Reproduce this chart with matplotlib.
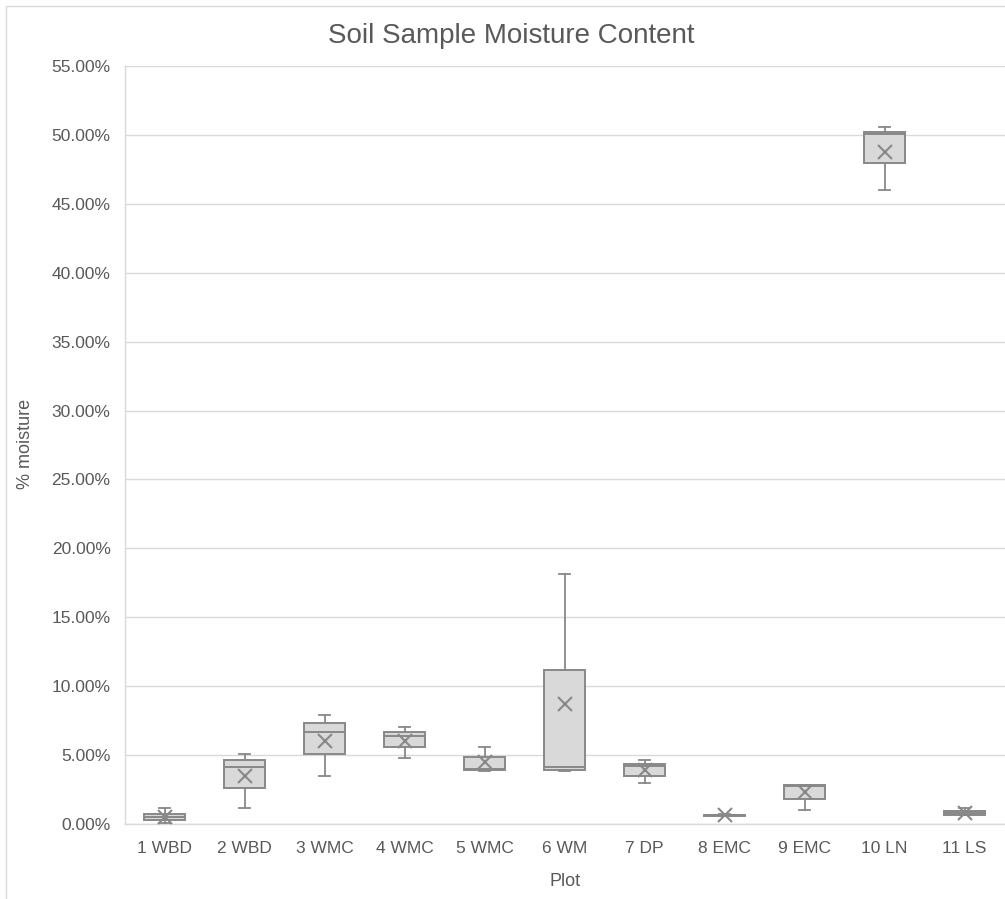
import matplotlib
matplotlib.use("Agg")
import matplotlib.pyplot as plt
from matplotlib.patches import Rectangle
from matplotlib.ticker import FuncFormatter, MultipleLocator

plt.rcParams['font.family'] = ['Liberation Sans', 'DejaVu Sans']

# Data (percent moisture)
plots = ["1 WBD", "2 WBD", "3 WMC", "4 WMC", "5 WMC", "6 WM", "7 DP", "8 EMC", "9 EMC", "10 LN", "11 LS"]
whisker_low = [0.10, 1.14, 3.48, 4.77, 3.82, 3.82, 2.95, 0.58, 1.02, 46.03, 0.62]
q1 =          [0.27, 2.61, 5.08, 5.61, 3.90, 3.90, 3.46, 0.60, 1.84, 47.99, 0.65]
median =      [0.50, 4.14, 6.70, 6.39, 3.99, 4.11, 4.21, 0.63, 2.76, 50.07, 0.80]
q3 =          [0.73, 4.64, 7.33, 6.68, 4.86, 11.20, 4.38, 0.68, 2.80, 50.22, 0.92]
whisker_high= [1.14, 5.08, 7.89, 7.02, 5.61, 18.14, 4.64, 0.70, 2.83, 50.56, 1.14]
mean =        [0.49, 3.48, 6.04, 6.04, 4.48, 8.71, 3.92, 0.64, 2.34, 48.79, 0.82]

W, H = 1005, 899
fig = plt.figure(figsize=(W / 100, H / 100), dpi=100)
fig.patch.set_facecolor('white')

# chart area border
fig.patches.append(Rectangle((6 / W, -0.1), 1.2, (H - 6) / H + 0.1, transform=fig.transFigure,
                             fill=False, edgecolor='#D9D9D9', linewidth=1.0, zorder=0))

left, right = 124.5 / W, 1004.5 / W
bottom, top = (H - 824) / H, (H - 66) / H
ax = fig.add_axes([left, bottom, right - left, top - bottom])

stats = []
for i in range(len(plots)):
    stats.append(dict(label=plots[i], whislo=whisker_low[i], q1=q1[i], med=median[i],
                      q3=q3[i], whishi=whisker_high[i], mean=mean[i], fliers=[]))

edge = '#888888'
ax.bxp(stats, positions=range(1, len(plots) + 1), widths=0.51, capwidths=0.14,
       patch_artist=True, showmeans=True, showfliers=False,
       boxprops=dict(facecolor='#D9D9D9', edgecolor=edge, linewidth=1.4),
       whiskerprops=dict(color=edge, linewidth=1.3),
       capprops=dict(color=edge, linewidth=1.3),
       medianprops=dict(color=edge, linewidth=1.4),
       meanprops=dict(marker='x', markeredgecolor=edge, markerfacecolor=edge,
                      markersize=9.5, markeredgewidth=1.5),
       zorder=3)

ax.set_xlim(0.5, len(plots) + 0.5)
ax.set_ylim(0, 55)
ax.yaxis.set_major_locator(MultipleLocator(5))
ax.yaxis.set_major_formatter(FuncFormatter(lambda v, p: f"{v:.2f}%"))
ax.set_xticks(range(1, len(plots) + 1))
ax.set_xticklabels(plots)

ax.grid(axis='y', color='#D9D9D9', linewidth=1.0, zorder=0)
ax.set_axisbelow(True)
for s in ['top', 'right']:
    ax.spines[s].set_visible(False)
for s in ['left', 'bottom']:
    ax.spines[s].set_color('#D9D9D9')
    ax.spines[s].set_linewidth(1.0)

ax.tick_params(axis='both', length=0, labelcolor='#595959', labelsize=12.5)
ax.tick_params(axis='x', pad=12)
ax.tick_params(axis='y', pad=10)

fig.text(511 / W, 1 - 43.3 / H, "Soil Sample Moisture Content", ha='center', va='baseline',
         fontsize=20, color='#595959')
fig.text(25.6 / W, 1 - 444 / H, "% moisture", rotation=90, ha='center', va='center',
         fontsize=13, color='#595959')
fig.text(565 / W, 1 - 881.7 / H, "Plot", ha='center', va='center', fontsize=13, color='#595959')

fig.savefig("out.png", dpi=100)
